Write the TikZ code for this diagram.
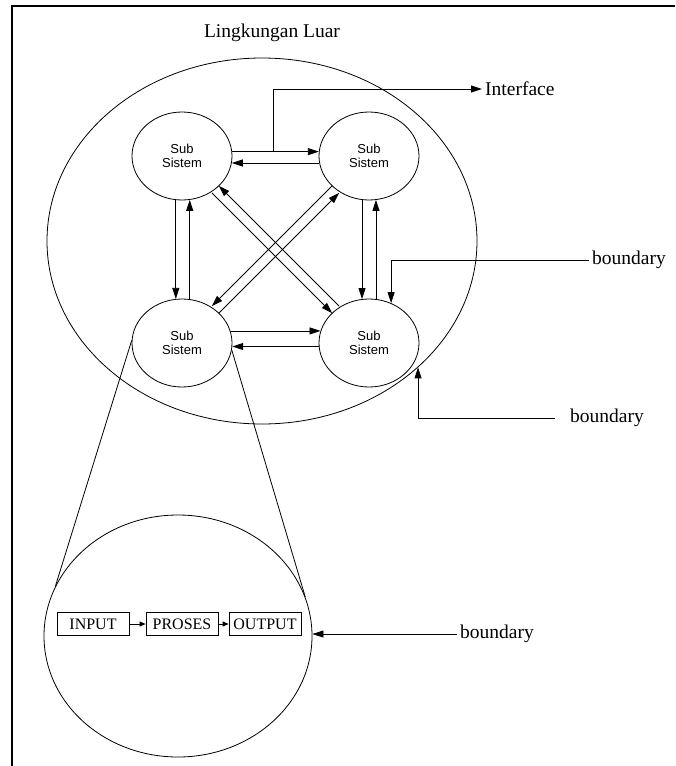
\documentclass[tikz,border=0pt]{standalone}
\usepackage{fontspec}
\setmainfont{Liberation Serif}
\setsansfont{Liberation Sans}
\usetikzlibrary{arrows.meta,shapes.geometric,calc}
\tikzset{subsys/.style = {ellipse, draw, line width=0.8pt, minimum width=100pt, minimum height=88pt,
                          inner sep=0pt, align=center, font=\sffamily\fontsize{13}{14}\selectfont},
         arr/.style = {-{Triangle[length=11pt,width=7pt]}, line width=0.8pt},
         smallarr/.style = {-{Triangle[length=6pt,width=5pt]}, line width=0.8pt},
         procbox/.style = {draw, line width=0.8pt, minimum width=72pt, minimum height=23pt,
                           inner sep=0pt, font=\fontsize{16}{18}\selectfont},
         lbl/.style = {inner sep=3pt, font=\fontsize{19.5}{22}\selectfont}}

\begin{document}
\begin{tikzpicture}[x=1pt,y=-1pt]
\useasboundingbox (0,0) rectangle (675,766);
% frame
\draw[line width=2pt] (12,766) -- (12,6) -- (675,6);

\node[lbl] (luar) at (272,33) {Lingkungan Luar};
\node[ellipse, draw, line width=0.8pt, minimum width=430pt, minimum height=366pt] (env) at (262,241) {};

% sub sistem
\node[subsys] (tl) at (182,156) {Sub\\Sistem};
\node[subsys] (tr) at (369,156) {Sub\\Sistem};
\node[subsys] (bl) at (182,343) {Sub\\Sistem};
\node[subsys] (br) at (369,343) {Sub\\Sistem};

\draw[arr] (tl.5) -- coordinate[pos=0.48] (tap) (tr.175);
\draw[arr] (tr.-172) -- (tl.-8);
\draw[arr] (bl.14) -- (br.166);
\draw[arr] (br.-176) -- (bl.-4);
\draw[arr] (tl.-98) -- (bl.98);
\draw[arr] (bl.80) -- (tl.-80);
\draw[arr] (tr.-99) -- (br.99);
\draw[arr] (br.81) -- (tr.-81);
\draw[arr] ([shift={(-3.5pt,-3.5pt)}]tl.-45) -- ([shift={(-3.5pt,-3.5pt)}]br.135);
\draw[arr] ([shift={(3.5pt,3.5pt)}]br.135) -- ([shift={(3.5pt,3.5pt)}]tl.-45);
\draw[arr] ([shift={(-3.5pt,3.5pt)}]tr.-135) -- ([shift={(-3.5pt,3.5pt)}]bl.45);
\draw[arr] ([shift={(3.5pt,-3.5pt)}]bl.45) -- ([shift={(3.5pt,-3.5pt)}]tr.-135);

% interface and boundary
\node[lbl, anchor=west] (iface) at (482,89) {Interface};
\draw[arr] (tap) |- (iface.west);
\node[lbl, anchor=west] (bnd1) at (589,260) {boundary};
\draw[arr] (bnd1.west) -| (br.61);
\node[lbl, anchor=west] (bnd2) at (567,418) {boundary};
\draw[arr, shorten <=12pt] (bnd2.west) -| (env.-39);

% zoom
\node[ellipse, draw, line width=0.8pt, minimum width=268pt, minimum height=242pt] (zoomc) at (178,636) {};
\draw[line width=0.8pt] (bl.177) -- (zoomc.158);
\draw[line width=0.8pt] (bl.-8) -- (zoomc.17);

\node[procbox] (inp) at (93,624) {INPUT};
\node[procbox] (pro) at (182,624) {PROSES};
\node[procbox] (outp) at (265,624) {OUTPUT};
\draw[smallarr] (inp) -- (pro);
\draw[smallarr] (pro) -- (outp);

\node[lbl, anchor=west] (bnd3) at (457,634) {boundary};
\draw[arr] (bnd3.west) -- (bnd3.west -| zoomc.east);
\end{tikzpicture}
\end{document}
